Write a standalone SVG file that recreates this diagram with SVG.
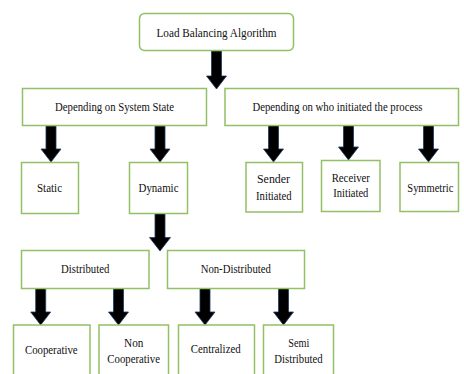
<svg xmlns="http://www.w3.org/2000/svg" width="464" height="374" viewBox="0 0 464 374">
<style>
.box{fill:#fff;stroke:#93c066;stroke-width:1.5}
.arr{fill:#000;stroke:#1f3a60;stroke-width:0.8;stroke-linejoin:miter}
</style>
<rect width="464" height="374" fill="#fff"/>
<g id="connectors">
<path class="arr" d="M211.5 51H221.5V76H226.5L216.5 89L206.5 76H211.5Z"/>
<path class="arr" d="M46 126H56V149H61L51 162L41 149H46Z"/>
<path class="arr" d="M155 126H165V149H170L160 162L150 149H155Z"/>
<path class="arr" d="M268.5 125.5H278.5V149H283.5L273.5 162L263.5 149H268.5Z"/>
<path class="arr" d="M343.5 125.5H353.5V147H358.5L348.5 160L338.5 147H343.5Z"/>
<path class="arr" d="M423.5 125.5H433.5V149H438.5L428.5 162L418.5 149H423.5Z"/>
<path class="arr" d="M155 213.5H165V237.5H170.5L160 251L149.5 237.5H155Z"/>
<path class="arr" d="M35.7 288.5H45.7V312H50.7L40.7 325L30.7 312H35.7Z"/>
<path class="arr" d="M113.5 288.5H123.5V312H128.5L118.5 325L108.5 312H113.5Z"/>
<path class="arr" d="M200 288.5H210V312H215L205 325L195 312H200Z"/>
<path class="arr" d="M278.5 288.5H288.5V312H293.5L283.5 325L273.5 312H278.5Z"/>
</g>
<g font-family="Liberation Serif" font-size="12.5" fill="#111" text-anchor="middle">
<g id="load-balancing">
<rect class="box" x="139.5" y="13.5" width="154" height="37" rx="5"/>
<text x="216.5" y="36.5" textLength="120" lengthAdjust="spacingAndGlyphs">Load Balancing Algorithm</text>
</g>
<g id="system-state">
<rect class="box" x="22.5" y="88.5" width="184" height="37"/>
<text x="114.5" y="110.5" textLength="119" lengthAdjust="spacingAndGlyphs">Depending on System State</text>
</g>
<g id="who-initiated">
<rect class="box" x="225" y="88.5" width="233.5" height="37"/>
<text x="337.5" y="110.5" textLength="170" lengthAdjust="spacingAndGlyphs">Depending on who initiated the process</text>
</g>
<g id="static">
<rect class="box" x="21.5" y="162.5" width="57" height="51"/>
<text x="49.5" y="192" textLength="25" lengthAdjust="spacingAndGlyphs">Static</text>
</g>
<g id="dynamic">
<rect class="box" x="129.5" y="162.5" width="58" height="51"/>
<text x="158.5" y="192" textLength="40" lengthAdjust="spacingAndGlyphs">Dynamic</text>
</g>
<g id="sender">
<rect class="box" x="246" y="162.5" width="56.5" height="49.5"/>
<text x="273.5" y="183" textLength="33" lengthAdjust="spacingAndGlyphs">Sender</text>
<text x="273.8" y="199.5" textLength="35.5" lengthAdjust="spacingAndGlyphs">Initiated</text>
</g>
<g id="receiver">
<rect class="box" x="321.5" y="160.5" width="58.5" height="51"/>
<text x="350.8" y="181.5" textLength="38.3" lengthAdjust="spacingAndGlyphs">Receiver</text>
<text x="350.8" y="196.5" textLength="35" lengthAdjust="spacingAndGlyphs">Initiated</text>
</g>
<g id="symmetric">
<rect class="box" x="400" y="162.5" width="58.5" height="49"/>
<text x="430.3" y="191.5" textLength="46" lengthAdjust="spacingAndGlyphs">Symmetric</text>
</g>
<g id="distributed">
<rect class="box" x="21.5" y="250.5" width="127.5" height="38"/>
<text x="85.2" y="273.3" textLength="48.3" lengthAdjust="spacingAndGlyphs">Distributed</text>
</g>
<g id="non-distributed">
<rect class="box" x="167.5" y="250.5" width="137" height="38"/>
<text x="235.8" y="273.3" textLength="70.3" lengthAdjust="spacingAndGlyphs">Non-Distributed</text>
</g>
<g id="cooperative">
<rect class="box" x="13.5" y="325" width="76.5" height="60"/>
<text x="51.3" y="354" textLength="52.7" lengthAdjust="spacingAndGlyphs">Cooperative</text>
</g>
<g id="non-cooperative">
<rect class="box" x="99" y="325" width="69.5" height="60"/>
<text x="133.7" y="346.7" textLength="19.3" lengthAdjust="spacingAndGlyphs">Non</text>
<text x="133.7" y="362.7" textLength="52.7" lengthAdjust="spacingAndGlyphs">Cooperative</text>
</g>
<g id="centralized">
<rect class="box" x="178.5" y="325" width="76" height="60"/>
<text x="215.7" y="353.3" textLength="50" lengthAdjust="spacingAndGlyphs">Centralized</text>
</g>
<g id="semi-distributed">
<rect class="box" x="263.5" y="325" width="70" height="60"/>
<text x="298.8" y="346.7" textLength="21" lengthAdjust="spacingAndGlyphs">Semi</text>
<text x="298.5" y="362.7" textLength="48.3" lengthAdjust="spacingAndGlyphs">Distributed</text>
</g>
</g>
</svg>
